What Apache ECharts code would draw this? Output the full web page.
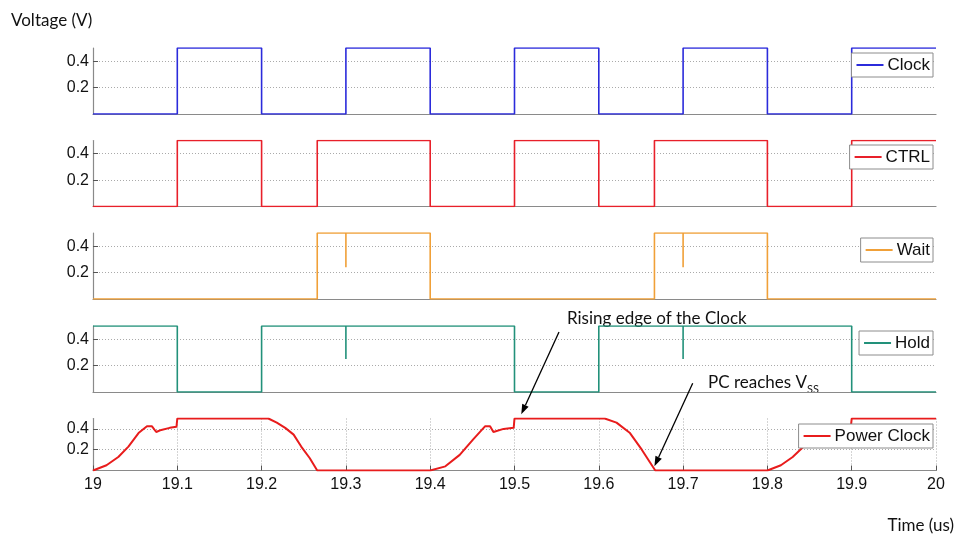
<!DOCTYPE html>
<html><head><meta charset="utf-8">
<script src="https://cdn.jsdelivr.net/npm/echarts@6/dist/echarts.min.js"></script>
<style>html,body{margin:0;padding:0;background:#fff}#c{width:956px;height:536px}</style>
</head><body><div id="c"></div>
<script>
// ---------------- data ----------------
const seriesNames = ['Clock', 'CTRL', 'Wait', 'Hold', 'Power Clock'];
const yTickLabels = [0.2, 0.4];

const clockT = [19, 19.1, 19.1, 19.2, 19.2, 19.3, 19.3, 19.4, 19.4, 19.5, 19.5, 19.6, 19.6, 19.7, 19.7, 19.8, 19.8, 19.9, 19.9, 20];
const clockV = [0, 0, 0.5, 0.5, 0, 0, 0.5, 0.5, 0, 0, 0.5, 0.5, 0, 0, 0.5, 0.5, 0, 0, 0.5, 0.5];

const ctrlT = [19, 19.1, 19.1, 19.2, 19.2, 19.266, 19.266, 19.4, 19.4, 19.5, 19.5, 19.6, 19.6, 19.666, 19.666, 19.8, 19.8, 19.9, 19.9, 20];
const ctrlV = [0, 0, 0.5, 0.5, 0, 0, 0.5, 0.5, 0, 0, 0.5, 0.5, 0, 0, 0.5, 0.5, 0, 0, 0.5, 0.5];

const waitT = [19, 19.266, 19.266, 19.3, 19.3, 19.3, 19.4, 19.4, 19.666, 19.666, 19.7, 19.7, 19.7, 19.8, 19.8, 20];
const waitV = [0, 0, 0.5, 0.5, 0.24, 0.5, 0.5, 0, 0, 0.5, 0.5, 0.24, 0.5, 0.5, 0, 0];

const holdT = [19, 19.1, 19.1, 19.2, 19.2, 19.3, 19.3, 19.3, 19.5, 19.5, 19.6, 19.6, 19.7, 19.7, 19.7, 19.9, 19.9, 20];
const holdV = [0.5, 0.5, 0, 0, 0.5, 0.5, 0.25, 0.5, 0.5, 0, 0, 0.5, 0.5, 0.25, 0.5, 0.5, 0, 0];

const pcT = [19, 19.016, 19.030, 19.042, 19.054, 19.064, 19.070, 19.075, 19.081, 19.091, 19.099, 19.1,
             19.208, 19.218, 19.228, 19.238, 19.247, 19.257, 19.266,
             19.4, 19.418, 19.435, 19.451, 19.465, 19.471, 19.475, 19.487, 19.499, 19.5,
             19.607, 19.621, 19.637, 19.651, 19.667,
             19.8, 19.816, 19.830, 19.843, 19.854, 19.864, 19.870, 19.875, 19.882, 19.891, 19.899, 19.9, 20];
const pcV = [0, 0.05, 0.13, 0.23, 0.36, 0.425, 0.425, 0.37, 0.39, 0.41, 0.42, 0.5,
             0.5, 0.46, 0.41, 0.345, 0.23, 0.12, 0,
             0, 0.04, 0.15, 0.30, 0.425, 0.425, 0.37, 0.40, 0.41, 0.5,
             0.5, 0.46, 0.36, 0.2, 0,
             0, 0.05, 0.13, 0.23, 0.36, 0.425, 0.425, 0.37, 0.39, 0.41, 0.42, 0.5, 0.5];

// annotation targets (data coordinates in the Power Clock panel)
const risingEdgePoint = [19.508, 0.54];
const vssPoint = [19.666, 0.04];

// ---------------- chart ----------------
const times = [clockT, ctrlT, waitT, holdT, pcT];
const values = [clockV, ctrlV, waitV, holdV, pcV];
const colors = ['#2b2bdb', '#e8202a', '#f0a038', '#22917a', '#e81c1c'];
const tops = [48, 140.5, 233, 326, 418.5];
const heights = [66, 66, 66, 66, 52];
const legendTops = [53, 145, 238, 331, 424];
const tickFont = 'Liberation Sans, Arial, sans-serif';
const noteFont = 'Lato, Open Sans, sans-serif';

const chart = echarts.init(document.getElementById('c'));
const option = {
  animation: false,
  backgroundColor: '#fff',
  grid: tops.map((t, i) => ({ left: 93, right: 20, top: t, height: heights[i], containLabel: false })),
  xAxis: tops.map((t, i) => ({
    type: 'value', gridIndex: i, min: 19, max: 20, interval: 0.1,
    axisLine: { show: true, onZero: false, lineStyle: { color: '#8a8a8a', width: 1.2 } },
    axisTick: { show: i === 4, inside: true, length: 5, lineStyle: { color: '#555' } },
    axisLabel: { show: i === 4, fontSize: 16, color: '#111', fontFamily: tickFont, margin: 6,
                 formatter: v => String(Math.round(v * 10) / 10) },
    splitLine: { show: i === 4, lineStyle: { type: [1, 2], color: '#aaa', width: 1 } }
  })),
  yAxis: tops.map((t, i) => ({
    type: 'value', gridIndex: i, min: 0, max: 0.5, interval: 0.2,
    axisLine: { show: true, lineStyle: { color: '#8a8a8a', width: 1.2 } },
    axisTick: { show: true, inside: true, length: 5, lineStyle: { color: '#555' }, customValues: yTickLabels },
    axisLabel: { fontSize: 16, color: '#111', fontFamily: tickFont, margin: 4, customValues: yTickLabels,
                 formatter: v => v.toFixed(1) },
    splitLine: { show: true, lineStyle: { type: [1, 2], color: '#aaa', width: 1 } }
  })),
  legend: seriesNames.map((n, i) => ({
    data: [n], right: 23, top: legendTops[i], orient: 'vertical',
    backgroundColor: '#fff', borderColor: '#8c8c8c', borderWidth: 1, borderRadius: 0,
    padding: [3, 3, 3, 5], icon: 'rect', itemWidth: 27, itemHeight: 2,
    textStyle: { fontSize: 17, lineHeight: 18, color: '#111', fontFamily: tickFont, padding: [0, 0, 0, -1] },
    selectedMode: false
  })),
  series: seriesNames.map((n, i) => ({
    name: n, type: 'line', xAxisIndex: i, yAxisIndex: i,
    symbol: 'none', showSymbol: false, smooth: false,
    color: colors[i],
    lineStyle: { color: colors[i], width: i === 4 ? 2 : 1.6 },
    data: times[i].map((t, k) => [t, values[i][k]]),
    z: 3
  }))
};
chart.setOption(option);

function arrow(x1, y1, x2, y2) {
  const dx = x2 - x1, dy = y2 - y1, L = Math.hypot(dx, dy);
  const ux = dx / L, uy = dy / L, hl = 10, hw = 3.5;
  const bx = x2 - ux * hl, by = y2 - uy * hl;
  return [
    { type: 'line', shape: { x1, y1, x2: bx, y2: by }, style: { stroke: '#000', lineWidth: 1.3 }, z: 10 },
    { type: 'polygon', shape: { points: [[x2, y2], [bx - uy * hw, by + ux * hw], [bx + uy * hw, by - ux * hw]] },
      style: { fill: '#000' }, z: 10 }
  ];
}
const h1 = chart.convertToPixel({ gridIndex: 4 }, risingEdgePoint);
const h2 = chart.convertToPixel({ gridIndex: 4 }, vssPoint);

chart.setOption({
  graphic: [
    { type: 'text', x: 11, y: 21, style: { text: 'Voltage (V)', fontSize: 17, fontFamily: noteFont, fill: '#111', verticalAlign: 'middle' } },
    { type: 'text', x: 954, y: 526, style: { text: 'Time (us)', fontSize: 17, fontFamily: noteFont, fill: '#111', align: 'right', verticalAlign: 'middle' } },
    { type: 'text', x: 567, y: 319, style: { text: 'Rising edge of the Clock', fontSize: 17, fontFamily: noteFont, fill: '#111', verticalAlign: 'middle' } },
    { type: 'text', x: 708, y: 383, style: {
        text: '{a|PC reaches V}{b|SS}', verticalAlign: 'middle',
        rich: { a: { fontSize: 17, fontFamily: noteFont, fill: '#111' },
                b: { fontSize: 11, fontFamily: noteFont, fill: '#111', padding: [12, 0, 0, 0] } } } },
    ...arrow(559, 332, h1[0], h1[1]),
    ...arrow(692.7, 383.3, h2[0], h2[1])
  ]
});
</script></body></html>
